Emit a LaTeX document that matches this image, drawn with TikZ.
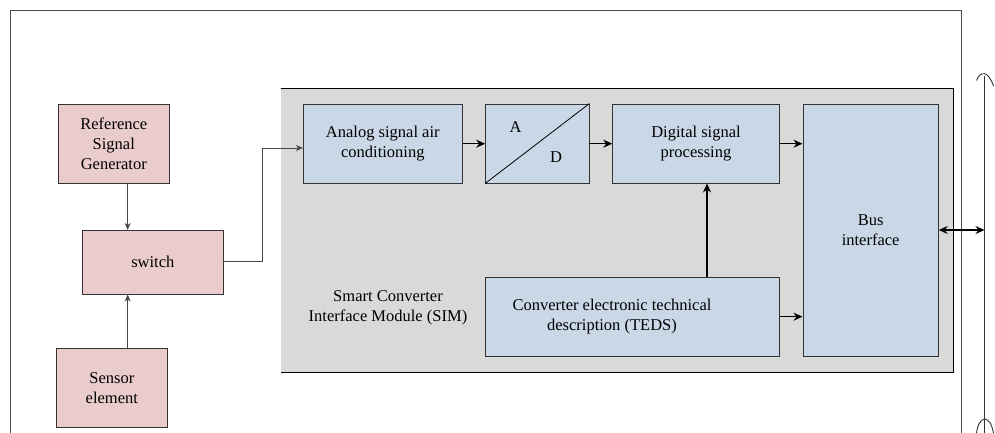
\documentclass[tikz,border=0pt]{standalone}
\usepackage{fontspec}
\setmainfont{Liberation Serif}
\usetikzlibrary{arrows.meta,positioning}
\definecolor{pinkf}{RGB}{235,204,204}
\definecolor{bluef}{RGB}{201,215,230}
\definecolor{grayf}{RGB}{217,217,217}
\definecolor{edge}{RGB}{70,70,70}
\tikzset{
  px/.style={x=1pt,y=-1pt},
  pinkbox/.style={draw=black!80,fill=pinkf,line width=0.9pt,inner sep=0pt,align=center,font=\fontsize{16.5}{20}\selectfont},
  bluebox/.style={draw=black!80,fill=bluef,line width=0.9pt,inner sep=0pt,align=center,font=\fontsize{16.5}{20}\selectfont},
  thinarrow/.style={draw=edge,line width=0.8pt,-{Stealth[length=7pt,width=6pt]}},
  thickarrow/.style={draw=black,line width=1.4pt,-{Stealth[length=9pt,width=8pt]}},
  lbl/.style={font=\fontsize{16.5}{20}\selectfont,align=center,inner sep=0pt}
}
\begin{document}
\begin{tikzpicture}[px]
\useasboundingbox (0,0) rectangle (995,433);
% outer frame (open at bottom)
\draw[draw=black!70,line width=0.9pt] (10,440) -- (10,10) -- (961.5,10) -- (961.5,440);
% SIM area
\fill[grayf] (280.5,88.5) rectangle (953.5,372.5);
\draw[black,line width=0.9pt] (280.5,88.5) -- (953.5,88.5) -- (953.5,372.5) -- (280.5,372.5);
% left blocks
\node[pinkbox,minimum width=111pt,minimum height=79pt] (rsg) at (113.8,143.5) {Reference\\Signal\\Generator};
\node[pinkbox,minimum width=140.3pt,minimum height=63.7pt] (sw) at (152.8,262.2) {switch};
\node[pinkbox,minimum width=111pt,minimum height=78.6pt] (sen) at (111.8,388) {Sensor\\element};
% SIM blocks
\node[bluebox,minimum width=159pt,minimum height=79pt] (asc) at (382.8,143.5) {Analog signal air\\conditioning};
\node[bluebox,minimum width=103.3pt,minimum height=79pt] (ad) at (537.3,143.5) {};
\draw[black,line width=0.8pt] (ad.south west) -- (ad.north east);
\node[lbl] (la) at (515.7,126.7) {A};
\node[lbl] (ld) at (556,157.3) {D};
\node[bluebox,minimum width=166.6pt,minimum height=79pt] (dsp) at (696,143.5) {Digital signal\\processing};
\node[bluebox,minimum width=135.3pt,minimum height=252.3pt] (bus) at (870.6,230.2) {Bus\\interface};
\node[bluebox,minimum width=293.6pt,minimum height=79pt] (teds) at (632.5,316.8) {};
\node[lbl] (tedst) at (612,316.8) {Converter electronic technical\\description (TEDS)};
\node[lbl] (sim) at (388,308) {Smart Converter\\Interface Module (SIM)};
% connectors
\draw[thinarrow] (rsg.south -| 127.7,0) -- (sw.north -| 127.7,0);
\draw[thinarrow] (sen.north -| 127.7,0) -- (sw.south -| 127.7,0);
\coordinate (j1) at (262.7,261.7);
\coordinate (j2) at (262.7,148);
\draw[thinarrow] (sw.east |- j1) -- (j1) -- (j2) -- (asc.west |- j2);
\draw[thickarrow] (asc.east |- 0,143.7) -- (ad.west |- 0,143.7);
\draw[thickarrow] (ad.east |- 0,143.7) -- (dsp.west |- 0,143.7);
\draw[thickarrow] (dsp.east |- 0,143.7) -- (bus.west |- 0,143.7);
\draw[thickarrow] (teds.east |- 0,316.7) -- (bus.west |- 0,316.7);
\draw[thickarrow] (teds.north -| 707,0) -- (dsp.south -| 707,0);
% bus line
\coordinate (bt) at (984.5,76);
\coordinate (bb) at (984.5,433);
\draw[draw=black!80,line width=0.9pt] (bt) -- (bb);
\draw[draw=black!80,line width=0.9pt] (976.5,80.5) .. controls (980,71) and (988,70) .. (993.5,86);
\draw[draw=black!80,line width=0.9pt] (976.5,433) .. controls (979,415) and (990,414) .. (993.5,433);
\coordinate (bj) at (984.5,230);
\draw[black,line width=1.4pt,{Stealth[length=9pt,width=8pt]}-{Stealth[length=9pt,width=8pt]}] (bus.east |- bj) -- (bj);
\end{tikzpicture}
\end{document}
